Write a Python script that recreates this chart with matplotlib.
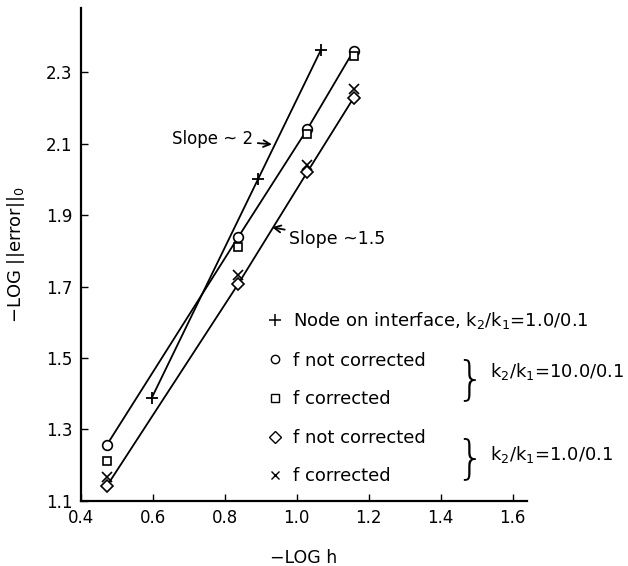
import numpy as np
import matplotlib
matplotlib.use('Agg')
import matplotlib.pyplot as plt
from matplotlib.lines import Line2D

# node on interface, k2/k1 = 1.0/0.1
h_node = [0.597, 0.892, 1.067]
e_node = [1.389, 2.000, 2.362]

h_grid = [0.472, 0.837, 1.029, 1.158]
# k2/k1 = 10.0/0.1
e_notcorr_10 = [1.257, 1.838, 2.140, 2.360]
e_corr_10 = [1.212, 1.812, 2.126, 2.345]
# k2/k1 = 1.0/0.1
e_notcorr_1 = [1.142, 1.707, 2.020, 2.228]
e_corr_1 = [1.167, 1.732, 2.040, 2.253]

x_ticks = [0.4, 0.6, 0.8, 1.0, 1.2, 1.4, 1.6]
y_ticks = [1.1, 1.3, 1.5, 1.7, 1.9, 2.1, 2.3]

plt.rcParams['font.family'] = ['DejaVu Sans']

fig = plt.figure(figsize=(6.28, 5.66), dpi=100)
ax = fig.add_axes([0.129, 0.115, 0.71, 0.871])

k = 'black'
ax.plot(h_node, e_node, color=k, lw=1.3, marker='+', ms=9, mew=1.3)
ax.plot(h_grid, e_notcorr_10, color=k, lw=1.3, marker='o', ms=7, mfc='white', mew=1.2)
ax.plot(h_grid, e_corr_10, ls='none', marker='s', ms=6, mfc='white', mec=k, mew=1.2)
ax.plot(h_grid, e_notcorr_1, color=k, lw=1.3, marker='D', ms=6.5, mfc='white', mew=1.2)
ax.plot(h_grid, e_corr_1, ls='none', marker='x', ms=6.5, mec=k, mew=1.2)

ax.set_xlim(0.4, 1.64)
ax.set_ylim(1.1, 2.48)
ax.set_xticks(x_ticks)
ax.set_yticks(y_ticks)
ax.set_xticklabels(['%.1f' % v for v in x_ticks])
ax.set_yticklabels(['%.1f' % v for v in y_ticks])
ax.tick_params(direction='in', length=5, width=1, labelsize=12, pad=6)
for s in ['top', 'right']:
    ax.spines[s].set_visible(False)
for s in ['left', 'bottom']:
    ax.spines[s].set_linewidth(1.6)

ax.set_xlabel('\u2212LOG h', fontsize=12.5, labelpad=16)
ax.set_ylabel('\u2212LOG ||error||$_0$', fontsize=13, labelpad=14)

# slope annotations
ax.annotate('Slope ~ 2', xy=(0.931, 2.098), xytext=(0.88, 2.113),
            ha='right', va='center', fontsize=12,
            arrowprops=dict(arrowstyle='->', color=k, lw=1.3, shrinkA=1, shrinkB=0))
ax.annotate('Slope ~1.5', xy=(0.931, 1.866), xytext=(0.978, 1.832),
            ha='left', va='center', fontsize=12.5,
            arrowprops=dict(arrowstyle='->', color=k, lw=1.3, shrinkA=1, shrinkB=0))

# legend
handles = [
    Line2D([], [], ls='none', marker='+', ms=8, mec=k, mew=1.1),
    Line2D([], [], ls='none', marker='o', ms=6, mfc='white', mec=k, mew=1.0),
    Line2D([], [], ls='none', marker='s', ms=5.5, mfc='white', mec=k, mew=1.0),
    Line2D([], [], ls='none', marker='D', ms=6, mfc='white', mec=k, mew=1.0),
    Line2D([], [], ls='none', marker='x', ms=6, mec=k, mew=1.0),
]
labels = ['Node on interface, k$_2$/k$_1$=1.0/0.1',
          'f not corrected', 'f corrected', 'f not corrected', 'f corrected']
ax.legend(handles, labels, loc='upper left', bbox_to_anchor=(0.418, 0.387),
          frameon=False, fontsize=13, handlelength=0.8, handletextpad=0.6,
          labelspacing=1.14, borderpad=0, borderaxespad=0)

ax.text(0.872, 0.245, '}', transform=ax.transAxes, fontsize=33, fontweight='light',
        ha='center', va='center')
ax.text(0.872, 0.085, '}', transform=ax.transAxes, fontsize=33, fontweight='light',
        ha='center', va='center')
ax.text(0.917, 0.262, 'k$_2$/k$_1$=10.0/0.1', transform=ax.transAxes,
        fontsize=13, ha='left', va='center')
ax.text(0.917, 0.095, 'k$_2$/k$_1$=1.0/0.1', transform=ax.transAxes,
        fontsize=13, ha='left', va='center')

fig.savefig('out.png', dpi=100)
